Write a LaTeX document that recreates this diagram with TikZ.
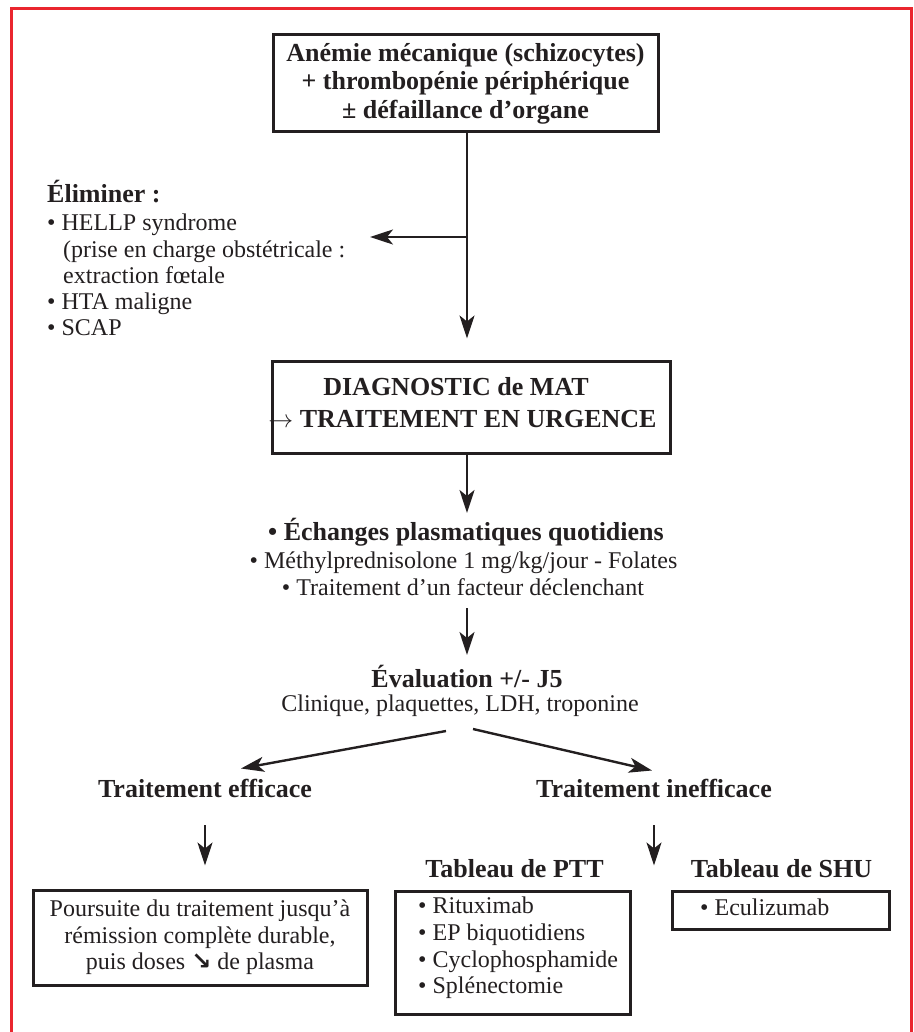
\documentclass[tikz,border=0pt]{standalone}
\usepackage{fontspec}
\setmainfont{Liberation Serif}
\newfontfamily\flechefont{DejaVu Sans}
\usetikzlibrary{arrows.meta, positioning, calc}

\definecolor{encre}{RGB}{35,31,32}
\definecolor{cadre}{RGB}{234,38,46}

\tikzset{
  corps/.style={font=\fontsize{24}{26.5}\selectfont, text=encre, inner sep=0pt},
  gras/.style={font=\fontsize{26}{28.5}\selectfont\bfseries, text=encre, inner sep=0pt},
  boite/.style={draw=encre, line width=3pt, inner sep=0pt},
  fleche/.style={draw=encre, line width=2.4pt, -{Stealth[length=23pt, width=15pt, inset=6pt]}},
}

\begin{document}
\begin{tikzpicture}[x=1pt, y=-1pt]
  \useasboundingbox (0, 0) rectangle (913, 1032);
  % cadre
  \draw[cadre, line width=3pt] (11, 1032) -- (11, 9) -- (911, 9) -- (911, 1032);

  \coordinate (axe) at (467, 0);
  \coordinate (embr) at (467, 237);
  \coordinate (pointe) at (370, 237);

  % signes
  \node[boite, gras, align=center, minimum width=385pt, minimum height=97pt] (signes) at (465.5, 83.5)
    {Anémie mécanique (schizocytes)\\+ thrombopénie périphérique\\± défaillance d’organe};

  % a eliminer
  \node[gras, anchor=base west] (elim) at (47, 203) {Éliminer :};
  \node[corps, anchor=base west] (hellp) at (47, 230) {• HELLP syndrome};
  \node[corps, anchor=base west] (prise) at (63, 257) {(prise en charge obstétricale :};
  \node[corps, anchor=base west] (extrac) at (63, 283) {extraction fœtale};
  \node[corps, anchor=base west] (hta) at (47, 309) {• HTA maligne};
  \node[corps, anchor=base west] (scap) at (47, 335) {• SCAP};

  % diagnostic
  \node[boite, minimum width=398pt, minimum height=92pt] (diag) at (471, 407) {};
  \node[gras, anchor=base] (diagA) at (456, 395) {DIAGNOSTIC de MAT};
  \node[gras, anchor=base] (diagB) at (462.5, 427) {$\rightarrow$ TRAITEMENT EN URGENCE};

  % traitement
  \node[gras, anchor=base] (echanges) at (466, 540) {• Échanges plasmatiques quotidiens};
  \node[corps, anchor=base] (methyl) at (463.5, 568) {• Méthylprednisolone 1 mg/kg/jour - Folates};
  \node[corps, anchor=base] (declench) at (463, 595) {• Traitement d’un facteur déclenchant};

  % evaluation
  \node[gras, anchor=base] (evaluation) at (467, 687) {Évaluation +/- J5};
  \node[corps, anchor=base] (clinique) at (460, 711) {Clinique, plaquettes, LDH, troponine};
  \coordinate (gauche) at (446, 731);
  \coordinate (droite) at (473, 729);

  \node[gras, anchor=base] (efficace) at (205, 797) {Traitement efficace};
  \node[gras, anchor=base] (inefficace) at (654, 797) {Traitement inefficace};

  % suite
  \node[boite, corps, align=center, minimum width=334pt, minimum height=95pt] (poursuite) at (200, 937.5)
    {Poursuite du traitement jusqu’à\\rémission complète durable,\\puis doses {\flechefont\bfseries ↘} de plasma};

  \node[gras, anchor=base] (titreptt) at (514.5, 877) {Tableau de PTT};
  \node[boite, minimum width=235pt, minimum height=123pt] (ptt) at (512.5, 952.5) {};
  \node[corps, anchor=base west] (ritux) at (418, 913) {• Rituximab};
  \node[corps, anchor=base west] (epbi) at (418, 940) {• EP biquotidiens};
  \node[corps, anchor=base west] (cyclo) at (418, 967) {• Cyclophosphamide};
  \node[corps, anchor=base west] (splen) at (418, 993) {• Splénectomie};

  \node[gras, anchor=base] (titreshu) at (781.5, 877) {Tableau de SHU};
  \node[boite, minimum width=217pt, minimum height=38pt] (shu) at (780.5, 910) {};
  \node[corps, anchor=base west] (eculi) at (700, 915) {• Eculizumab};

  \draw
  (signes.south -| axe) edge[fleche] ([yshift=21pt]diag.north -| axe)
  (embr) edge[fleche] (pointe)
  (diag.south -| axe) edge[fleche] ([yshift=-513pt]axe)
  ([yshift=-608pt]axe) edge[fleche] ([yshift=-655pt]axe)
  (gauche) edge[fleche] ([xshift=36pt, yshift=10pt]efficace.north)
  (droite) edge[fleche] ([xshift=-2pt, yshift=8pt]inefficace.north)
  ([yshift=-28pt]efficace.south) edge[fleche] ([yshift=23pt]poursuite.north -| efficace.south)
  ([yshift=-28pt]inefficace.south) edge[fleche] ([yshift=-68pt]inefficace.south);
\end{tikzpicture}
\end{document}
